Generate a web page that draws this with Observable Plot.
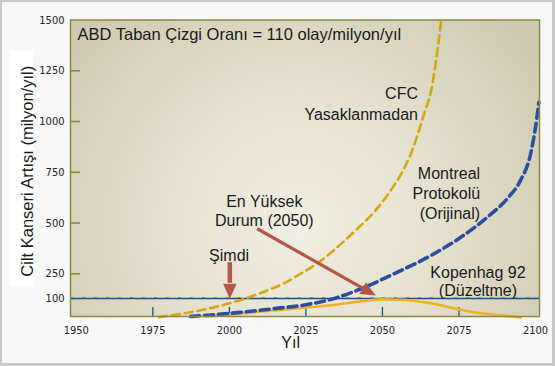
<!DOCTYPE html>
<html>
<head>
<meta charset="utf-8">
<script src="https://cdn.jsdelivr.net/npm/d3@7"></script>
<script src="https://cdn.jsdelivr.net/npm/@observablehq/plot@0.6"></script>
<style>
  body { margin: 0; background: #f8f8f8; }
  #wrap { position: relative; width: 555px; height: 366px; overflow: hidden; background: #f8f8f8; }
  #wrap svg { position: absolute; left: 0; top: 0; }
  #edge { position: absolute; left: 0; top: 0; width: 555px; height: 366px; box-sizing: border-box;
          border: 2px solid #c9c9c9; border-right-width: 3px; border-bottom-width: 3px; pointer-events: none; }
  #ybox { position: absolute; left: 10px; top: 51px; width: 23px; height: 235px; background: #ffffff; }
</style>
</head>
<body>
<div id="wrap"><div id="ybox"></div><div id="edge"></div></div>
<script>
// ---- data ----
const xTicks = [1950, 1975, 2000, 2025, 2050, 2075, 2100];
const xTickMarks = [1975, 2000, 2025, 2050, 2075];
const yTicks = [100, 250, 500, 750, 1000, 1250, 1500];
const yTickMarks = [250, 500, 750, 1000, 1250];
const baseline = 100;

const cfcYears  = [1977, 1987.3, 2001.4, 2012.4, 2017.7, 2023.3, 2028.7, 2036.3, 2040.7, 2048.3, 2053.2, 2055.9, 2059.2, 2063.8, 2065.8, 2069.2];
const cfcValues = [38, 54, 88, 149, 191, 251, 301, 395, 456, 572, 672, 736, 838, 1046, 1145, 1498];

const montYears  = [1987.3, 2003.7, 2014.4, 2025.5, 2035.3, 2044.0, 2054.9, 2065.8, 2075.6, 2084.3, 2090.8, 2095.1, 2098.4, 2100.0, 2101.1];
const montValues = [40, 54, 66, 80, 106, 167, 258, 340, 430, 529, 621, 710, 841, 972, 1095];

const kopYears  = [1992.8, 2014.5, 2035.3, 2050, 2056, 2065.8, 2076.6, 2095.2];
const kopValues = [40, 60, 80, 97, 96, 84, 60, 37];

const titleText = "ABD Taban Çizgi Oranı = 110 olay/milyon/yıl";
const yTitle = "Cilt Kanseri Artışı (milyon/yıl)";
const xTitle = "Yıl";

// ---- build tables ----
const toRows = (xs, ys) => xs.map((x, i) => ({year: x, value: ys[i]}));
const cfc = toRows(cfcYears, cfcValues);
const mont = toRows(montYears, montValues);
const kop = toRows(kopYears, kopValues);

// the original axis is not evenly spaced below 250: piecewise-linear display transform
const yWarp = d3.scaleLinear().domain([40, 100, 250, 1500]).range([0, 18, 42.7, 296.5]);

// filled arrow head with its tip at the symbol origin, pointing up
const arrowHead = {
  draw(context, size) {
    const r = Math.sqrt(size / Math.PI);
    const L = 2.2 * r, w = r;
    context.moveTo(0, 0);
    context.lineTo(-w, L);
    context.lineTo(w, L);
    context.closePath();
  }
};

const arrowColor = "#b35848";
const textColor = "#1a1a1a";
const font = "'Liberation Sans', Arial, sans-serif";
const tickFont = "'DejaVu Sans Condensed', 'DejaVu Sans', sans-serif";

const svg = Plot.plot({
  width: 555,
  height: 366,
  marginLeft: 70,
  marginRight: 16,
  marginTop: 19.5,
  marginBottom: 50,
  style: {background: "transparent", fontFamily: font, color: textColor, overflow: "visible"},
  x: {domain: [1948.1, 2101.3]},
  y: {transform: yWarp, domain: [0, 296.5]},
  marks: [
    Plot.frame({fill: "url(#plotBg)", stroke: "none"}),
    Plot.ruleY([baseline], {y: d => d, stroke: "#1d4c9e", strokeWidth: 1.6}),
    Plot.ruleY([baseline], {y: d => d, stroke: "#2f6a2a", strokeWidth: 1.2, strokeDasharray: "3,9", dy: -0.5}),
    Plot.tickX(xTickMarks, {x: d => d, stroke: "#1d4c9e", strokeWidth: 1.3, insetTop: 287.5}),
    Plot.tickY(yTickMarks, {y: d => d, stroke: "#85853a", strokeWidth: 1.5, insetRight: 459}),
    Plot.axisX({ticks: xTicks, tickSize: 0, tickPadding: 10, tickFormat: d => String(d), label: null,
                fontSize: 11, fontFamily: tickFont, fill: "#222"}),
    Plot.axisY(yTicks, {y: d => d, text: d => String(d), tickSize: 0, tickPadding: 6, label: null,
                fontSize: 11, fontFamily: tickFont, fill: "#222"}),
    // curves
    Plot.line(kop, {x: "year", y: "value", stroke: "#f2b126", strokeWidth: 2.6, curve: "monotone-x"}),
    Plot.line(cfc, {x: "year", y: "value", stroke: "#d3a90f", strokeWidth: 2.6, strokeDasharray: "8,5", curve: "monotone-x"}),
    Plot.line(mont, {x: "year", y: "value", stroke: "#2b4ea3", strokeWidth: 3.6, strokeDasharray: "9,5", curve: "monotone-x"}),
    // arrows
    Plot.link([0], {x1: 2000.15, y1: 307, x2: 2000.15, y2: 195, stroke: arrowColor, strokeWidth: 4.5}),
    Plot.dot([0], {x: 2000.15, y: 99, symbol: arrowHead, r: 6.8, rotate: 180, fill: arrowColor, stroke: "none"}),
    Plot.link([0], {x1: 2009.1, y1: 471.8, x2: 2044.1, y2: 157, stroke: arrowColor, strokeWidth: 3.2}),
    Plot.dot([0], {x: 2047.8, y: 118, symbol: arrowHead, r: 6.8, rotate: 119.4, fill: arrowColor, stroke: "none"}),
    // annotations
    Plot.text([titleText], {x: 1950.4, y: 1426, text: d => d, textAnchor: "start", fontSize: 16.5, fill: textColor}),
    Plot.text(["CFC\nYasaklanmadan"], {x: 2061.6, y: 1091, text: d => d, textAnchor: "end", lineHeight: 1.31, fontSize: 16, fill: textColor}),
    Plot.text(["Montreal\nProtokolü\n(Orijinal)"], {x: 2081.9, y: 651, text: d => d, textAnchor: "end", lineHeight: 1.26, fontSize: 16, fill: textColor}),
    Plot.text(["En Yüksek\nDurum (2050)"], {x: 2011.4, y: 560, text: d => d, lineHeight: 1.19, fontSize: 16, fill: textColor}),
    Plot.text(["Şimdi"], {x: 1999.9, y: 336, text: d => d, fontSize: 16, fill: textColor}),
    Plot.text(["Kopenhag 92\n(Düzeltme)"], {x: 2081.2, y: 205, text: d => d, lineHeight: 1.15, fontSize: 16, fill: textColor}),
    // axis titles
    Plot.text([yTitle], {frameAnchor: "left", dx: -43, dy: 3, rotate: -90, textAnchor: "middle", text: d => d, fontSize: 16.5, fill: textColor}),
    Plot.text([xTitle], {x: 2020, frameAnchor: "bottom", dy: 31, textAnchor: "middle", text: d => d, fontSize: 16, fill: textColor}),
    // border on top
    Plot.frame({stroke: "#8a8944", strokeWidth: 1.5})
  ]
});

// background glow of the plot area
const defs = d3.select(svg).insert("defs", ":first-child");
const grad = defs.append("radialGradient")
  .attr("id", "plotBg").attr("gradientUnits", "userSpaceOnUse")
  .attr("cx", 300).attr("cy", 225).attr("r", 290);
grad.append("stop").attr("offset", 0).attr("stop-color", "#f2efe4");
grad.append("stop").attr("offset", 0.45).attr("stop-color", "#e6e2d0");
grad.append("stop").attr("offset", 1).attr("stop-color", "#cfcab0");

const wrap = document.getElementById("wrap");
wrap.insertBefore(svg, document.getElementById("edge"));
</script>
</body>
</html>
